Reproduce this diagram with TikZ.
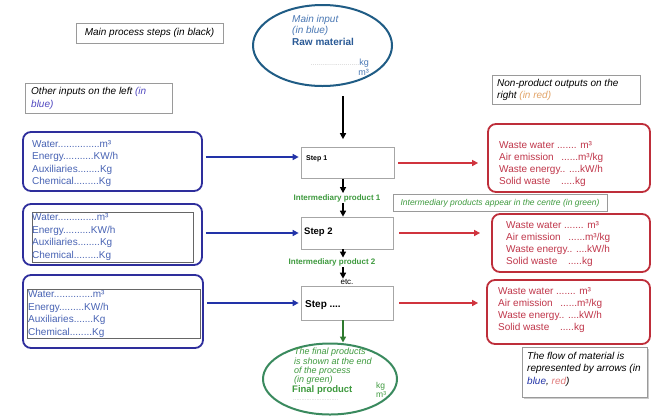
\documentclass[tikz,border=0pt]{standalone}
\usepackage{fontspec}
\setmainfont{Liberation Sans}
\usetikzlibrary{arrows.meta,shapes.geometric,shadows}
\definecolor{lbord}{HTML}{2E2E9C}
\definecolor{ltxt}{HTML}{4863B4}
\definecolor{barr}{HTML}{2233A8}
\definecolor{rbord}{HTML}{BE2E3A}
\definecolor{rtxt}{HTML}{C0364A}
\definecolor{rarr}{HTML}{D0343E}
\definecolor{gtxt}{HTML}{3E9A3E}
\definecolor{garr}{HTML}{2E7A2E}
\definecolor{gell}{HTML}{3A8A5E}
\definecolor{bell}{HTML}{1F5C85}
\definecolor{btxt}{HTML}{4A78B4}
\definecolor{btxtb}{HTML}{2A5A96}
\definecolor{notegray}{HTML}{9A9A9A}
\definecolor{orng}{HTML}{E2A468}
\definecolor{lred}{HTML}{E07A7A}
\definecolor{pblue}{HTML}{5048C0}
\begin{document}
\begin{tikzpicture}[x=1pt,y=-1pt,
  lbox/.style={draw=lbord,line width=1.8pt,rounded corners=8pt,inner sep=0pt},
  rbox/.style={draw=rbord,line width=1.8pt,rounded corners=8pt,inner sep=0pt},
  inbox/.style={draw=gray!80!black,line width=0.8pt,inner sep=0pt},
  stepbox/.style={draw=gray!70,line width=0.7pt,inner sep=0pt},
  note/.style={draw=notegray,line width=0.7pt,inner sep=0pt},
  boxtext/.style={anchor=north west,inner sep=0pt,align=left,font=\fontsize{10}{12.5}\selectfont},
  redtext/.style={boxtext,text=rtxt,font=\fontsize{10}{12.2}\selectfont},
  notetext/.style={anchor=north west,inner sep=0pt,align=left,font=\fontsize{10}{12}\selectfont\itshape},
  karrow/.style={-{Triangle[length=6pt,width=6pt]},line width=1.6pt},
  barrow/.style={karrow,draw=barr,line width=2pt},
  rarrow/.style={karrow,draw=rarr,line width=2pt},
  glabel/.style={font=\fontsize{8}{9}\selectfont\bfseries,text=gtxt,inner sep=1pt}]
\fill[white] (0,0) rectangle (652,416);
\useasboundingbox (0,0) rectangle (652,416);

% notes
\node[note,minimum width=147pt,minimum height=20pt,font=\fontsize{10}{12}\selectfont\itshape] (mps) at (149.5,33) {Main process steps (in black)};
\node[note,minimum width=147pt,minimum height=30pt] (oin) at (98.5,98) {};
\node[notetext,font=\fontsize{10}{13}\selectfont\itshape] (oint) at (31,87) {Other inputs on the left \textcolor{pblue}{(in}\\\textcolor{pblue}{blue)}};
\node[note,minimum width=148pt,minimum height=29pt] (npo) at (566,89.5) {};
\node[notetext] (npot) at (497,79) {Non-product outputs on the\\right \textcolor{orng}{(in red)}};
\node[note,minimum width=214pt,minimum height=17pt,font=\fontsize{8.5}{10}\selectfont\itshape,text=gtxt] (inote) at (500,203) {Intermediary products appear in the centre (in green)};
\node[note,fill=white,drop shadow={shadow xshift=1.5pt,shadow yshift=-1.5pt,opacity=0.4,fill=gray},minimum width=125pt,minimum height=50pt] (flow) at (584.5,372) {};
\node[notetext,font=\fontsize{10}{12.5}\selectfont\itshape] (flowt) at (527,352) {The flow of material is\\represented by arrows (in\\\textcolor{barr}{blue}, \textcolor{lred}{red})};

% main input ellipse
\node[ellipse,draw=bell,line width=2pt,minimum width=139pt,minimum height=81pt,inner sep=0pt] (ein) at (322.5,45.5) {};
\node[anchor=north west,inner sep=0pt,align=left,font=\fontsize{10}{11.5}\selectfont] (eint) at (292,15) {\textcolor{btxt}{\itshape Main input}\\\textcolor{btxt}{\itshape (in blue)}\\\textcolor{btxtb}{\bfseries Raw material}};
\node[anchor=north east,inner sep=0pt,align=right,font=\fontsize{9}{9.5}\selectfont,text=btxt] (ekg) at (369,59) {\textcolor{gray!50}{\fontsize{7}{7}\selectfont.........................}kg\\m³};

% left boxes
\node[lbox,minimum width=179pt,minimum height=59pt] (l1) at (112.5,161.5) {};
\node[boxtext,text=ltxt] (l1t) at (32,140) {Water...............m³\\Energy...........KW/h\\Auxiliaries........Kg\\Chemical.........Kg};
\node[lbox,minimum width=179pt,minimum height=61pt] (l2) at (112.5,234.5) {};
\node[inbox,minimum width=161pt,minimum height=50pt] (l2i) at (112.5,237) {};
\node[boxtext,text=ltxt] (l2t) at (32,213.5) {Water..............m³\\Energy..........KW/h\\Auxiliaries........Kg\\Chemical.........Kg};
\node[lbox,minimum width=180pt,minimum height=73pt] (l3) at (113,311.5) {};
\node[inbox,minimum width=173pt,minimum height=49pt] (l3i) at (113.5,313.5) {};
\node[boxtext,text=ltxt] (l3t) at (28,290.5) {Water..............m³\\Energy.........KW/h\\Auxiliaries.......Kg\\Chemical........Kg};

% steps
\node[stepbox,minimum width=93pt,minimum height=31pt] (s1) at (347.5,163) {};
\node[anchor=base west,inner sep=0pt,font=\fontsize{7}{8}\selectfont\bfseries] (s1t) at (306,160) {Step 1};
\node[stepbox,minimum width=92pt,minimum height=32pt] (s2) at (347,233) {};
\node[anchor=base west,inner sep=0pt,font=\fontsize{9.5}{10}\selectfont\bfseries] (s2t) at (304,234.5) {Step 2};
\node[stepbox,minimum width=92pt,minimum height=34pt] (s3) at (347,303) {};
\node[anchor=base west,inner sep=0pt,font=\fontsize{10}{11}\selectfont\bfseries] (s3t) at (305,307.5) {Step ....};

\node[glabel] (i1) at (337,198) {Intermediary product 1};
\node[glabel] (i2) at (332,262.5) {Intermediary product 2};
\node[font=\fontsize{8}{9}\selectfont,inner sep=0.5pt] (etc) at (347,282) {etc.};

% red boxes
\node[rbox,minimum width=162pt,minimum height=68pt] (r1) at (569,158) {};
\node[redtext] (r1t) at (499,141) {Waste water ....... m³\\Air emission \hspace{5pt}......m³/kg\\Waste energy.. ....kW/h\\Solid waste \hspace{8pt}.....kg};
\node[rbox,minimum width=158pt,minimum height=58pt] (r2) at (571,243) {};
\node[redtext] (r2t) at (506,221) {Waste water ....... m³\\Air emission \hspace{5pt}......m³/kg\\Waste energy.. ....kW/h\\Solid waste \hspace{8pt}.....kg};
\node[rbox,minimum width=163pt,minimum height=64pt] (r3) at (568.5,312) {};
\node[redtext] (r3t) at (498,287) {Waste water ....... m³\\Air emission \hspace{5pt}......m³/kg\\Waste energy.. ....kW/h\\Solid waste \hspace{8pt}.....kg};

% final ellipse
\node[ellipse,draw=gell,line width=2pt,minimum width=134pt,minimum height=71pt,inner sep=0pt] (fin) at (330,379) {};
\node[anchor=north west,inner sep=0pt,align=left,font=\fontsize{9}{9.4}\selectfont\itshape,text=gtxt] (fint) at (294,348) {The final products\\is shown at the end\\of the process\\(in green)};
\node[anchor=north west,inner sep=0pt,font=\fontsize{9.5}{10}\selectfont\bfseries,text=gtxt] (finp) at (292,385) {Final product};
\node[anchor=north west,inner sep=0pt,align=left,font=\fontsize{8.5}{9.5}\selectfont,text=gtxt] (fkg) at (376,382) {kg\\m³};
\node[anchor=north west,inner sep=0pt,text=gray!50,font=\fontsize{6}{6}\selectfont] (fdots) at (293,399) {...........................};

% arrows
\coordinate (ax) at (343,0);
\draw[karrow] ([yshift=-9pt]ein.south -| ax) -- ([yshift=8pt]s1.north -| ax);
\draw[karrow] (s1.south -| ax) -- (i1.north -| ax);
\draw[karrow] (i1.south -| ax) -- (s2.north -| ax);
\draw[karrow] (s2.south -| ax) -- (i2.north -| ax);
\draw[karrow] (i2.south -| ax) -- (etc.north -| ax);
\draw[karrow,draw=garr,line width=2pt] (s3.south -| ax) -- (fin.north -| ax);

\draw[barrow,shorten <=3pt,shorten >=2pt] ([yshift=6pt]s1.west -| l1.east) -- ([yshift=6pt]s1.west);
\draw[barrow,shorten <=3pt,shorten >=2pt] (s2.west -| l2.east) -- (s2.west);
\draw[barrow,shorten <=3pt,shorten >=2pt] (s3.west -| l3.east) -- (s3.west);
\draw[rarrow,shorten <=4pt,shorten >=9pt] (s1.east) -- (s1.east -| r1.west);
\draw[rarrow,shorten <=6pt,shorten >=11pt] (s2.east) -- (s2.east -| r2.west);
\draw[rarrow,shorten <=6pt,shorten >=8pt] (s3.east) -- (s3.east -| r3.west);
\end{tikzpicture}
\end{document}
